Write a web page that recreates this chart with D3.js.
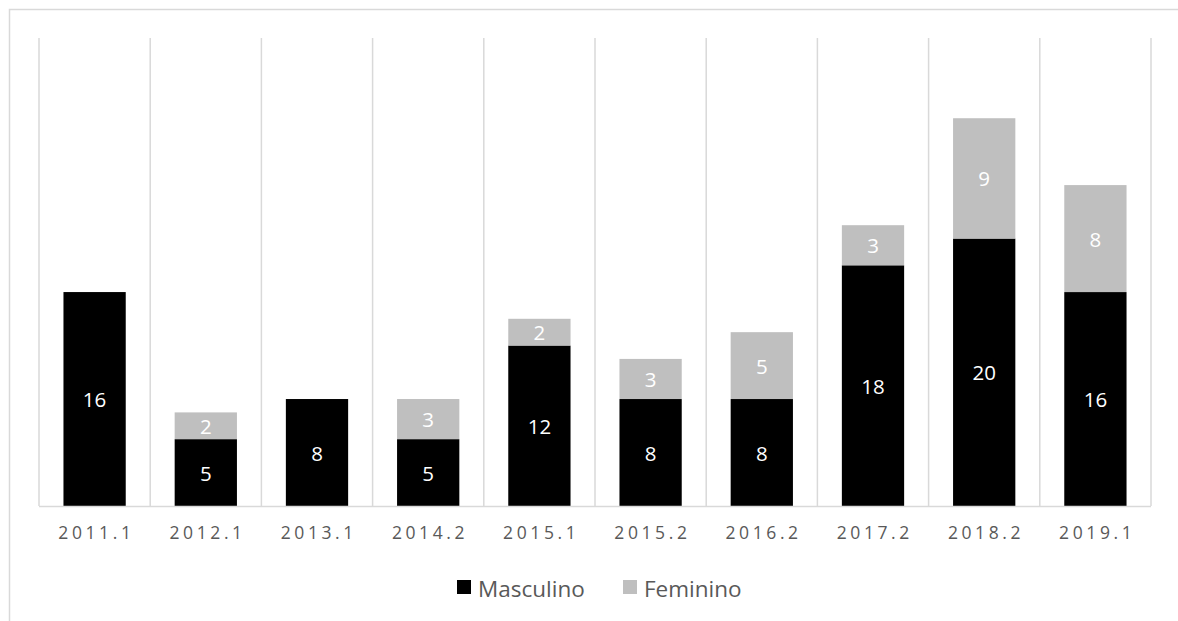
<!DOCTYPE html>
<html>
<head>
<meta charset="utf-8">
<script src="https://cdn.jsdelivr.net/npm/d3@7"></script>
<style>
  html, body { margin: 0; padding: 0; background: #fff; }
  svg { display: block; }
  text { font-family: "Open Sans", "Liberation Sans", sans-serif; }
</style>
</head>
<body>
<svg id="chart" width="1178" height="621"></svg>
<script>
// Semester labels
const categories = ["2011.1", "2012.1", "2013.1", "2014.2", "2015.1", "2015.2", "2016.2", "2017.2", "2018.2", "2019.1"];
// Counts per semester
const masculino = [16, 5, 8, 5, 12, 8, 8, 18, 20, 16];
const feminino  = [0, 2, 0, 3, 2, 3, 5, 3, 9, 8];
const seriesNames = ["Masculino", "Feminino"];
const seriesColors = ["#000000", "#bfbfbf"];

const svg = d3.select("#chart");
const W = 1178, H = 621;
const plot = { left: 39, right: 1151, top: 38, bottom: 506 };

// Outer chart border (runs past the visible frame on right and bottom)
svg.append("path")
  .attr("d", `M9.5,${H + 2} L9.5,9.5 L${W + 2},9.5`)
  .attr("fill", "none")
  .attr("stroke", "#d9d9d9")
  .attr("stroke-width", 1.5);

const rows = categories.map((c, i) => ({ cat: c, Masculino: masculino[i], Feminino: feminino[i] }));
const stacked = d3.stack().keys(seriesNames)(rows);

const x = d3.scaleBand()
  .domain(categories)
  .range([plot.left, plot.right])
  .paddingInner(0.44)
  .paddingOuter(0.22);

const y = d3.scaleLinear()
  .domain([0, 35])
  .range([plot.bottom, plot.top]);

// Vertical separators between categories
const bounds = d3.range(categories.length + 1).map(i => plot.left + i * (plot.right - plot.left) / categories.length);
svg.append("g").selectAll("line")
  .data(bounds)
  .join("line")
  .attr("x1", d => d).attr("x2", d => d)
  .attr("y1", plot.top).attr("y2", plot.bottom)
  .attr("stroke", "#d9d9d9")
  .attr("stroke-width", 1.5);

// Stacked bars
const layers = svg.append("g").selectAll("g")
  .data(stacked)
  .join("g")
  .attr("fill", (d, i) => seriesColors[i]);

layers.selectAll("rect")
  .data(d => d.filter(s => s[1] - s[0] > 0))
  .join("rect")
  .attr("x", d => x(d.data.cat))
  .attr("width", x.bandwidth())
  .attr("y", d => y(d[1]))
  .attr("height", d => y(d[0]) - y(d[1]));

// Value labels inside segments
layers.selectAll("text")
  .data(d => d.filter(s => s[1] - s[0] > 0))
  .join("text")
  .attr("x", d => x(d.data.cat) + x.bandwidth() / 2)
  .attr("y", d => (y(d[0]) + y(d[1])) / 2)
  .attr("text-anchor", "middle")
  .attr("dominant-baseline", "central")
  .attr("fill", "#ffffff")
  .attr("font-size", 20.5)
  .text(d => d[1] - d[0]);

// Category axis
const xAxis = svg.append("g")
  .attr("transform", `translate(0,${plot.bottom})`)
  .call(d3.axisBottom(x).tickSize(0).tickPadding(21));
xAxis.select(".domain")
  .attr("d", `M${plot.left},0.5H${plot.right}`)
  .attr("stroke", "#d9d9d9")
  .attr("stroke-width", 1.5);
xAxis.selectAll("text")
  .attr("font-family", "\"Open Sans\", sans-serif")
  .attr("font-size", 17.5)
  .attr("fill", "#595959")
  .attr("letter-spacing", "3.6px")
  .attr("dx", "1.8px");

// Legend
const legend = svg.append("g");
const legendItems = [
  { name: seriesNames[0], color: seriesColors[0], x: 457 },
  { name: seriesNames[1], color: seriesColors[1], x: 623 }
];
const li = legend.selectAll("g")
  .data(legendItems)
  .join("g")
  .attr("transform", d => `translate(${d.x},580)`);
li.append("rect")
  .attr("width", 14).attr("height", 14)
  .attr("fill", d => d.color);
li.append("text")
  .attr("x", 21)
  .attr("y", 8)
  .attr("dominant-baseline", "central")
  .attr("font-size", 22.5)
  .attr("fill", "#595959")
  .text(d => d.name);
</script>
</body>
</html>
